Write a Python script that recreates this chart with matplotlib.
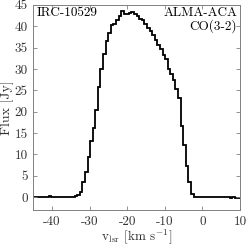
import numpy as np
import matplotlib
matplotlib.use("Agg")
import matplotlib.pyplot as plt

plt.rcParams["font.family"] = "serif"
plt.rcParams["font.serif"] = ["cmr10", "DejaVu Serif"]
plt.rcParams["mathtext.fontset"] = "cm"
plt.rcParams["axes.unicode_minus"] = False
plt.rcParams["axes.formatter.use_mathtext"] = False

# channel edges (km/s) and flux per channel (Jy)
v_start = -45.0
chan_width = 0.6875
flux = [0.1, 0.1, 0.15, 0.1, 0.1, 0.1, 0.2, 0.1, 0.1, 0.1,
        0.1, 0.05, 0.05, 0.1, 0.1, 0.1, 0.3, 0.6, 1.2, 3.5,
        5.8, 9.4, 13.2, 16.2, 20.4, 25.8, 30.0, 33.6, 36.6, 38.4,
        40.2, 40.5, 41.4, 42.5, 43.5, 42.8, 42.9, 43.2, 43.3, 42.9,
        42.3, 41.8, 41.4, 40.6, 39.7, 38.8, 37.9, 36.8, 35.7, 34.7,
        33.3, 32.3, 30.0, 28.9, 27.5, 25.2, 23.2, 16.7, 12.1, 7.4,
        3.5, 0.8, -0.05, 0.0, 0.0, 0.05, 0.0, 0.05, 0.1, 0.05,
        0.1, 0.1, 0.05, 0.1, 0.05, 0.0, -0.2, 0.0, -0.2, -0.1]
edges = v_start + chan_width * np.arange(len(flux) + 1)

fig = plt.figure(figsize=(2.46, 2.45), dpi=100)
ax = fig.add_axes([0.135, 0.143, 0.841, 0.837])

ax.stairs(flux, edges, baseline=None, color="black", linewidth=1.3)

ax.set_xlim(-45, 10)
ax.set_ylim(-3, 45)
ax.set_xticks([-40, -30, -20, -10, 0, 10])
ax.set_yticks(np.arange(0, 46, 5))

ax.tick_params(direction="in", top=True, right=True, length=3,
               width=0.6, color="#808080", labelsize=9.5, pad=4,
               labelcolor="#333333")
for sp in ax.spines.values():
    sp.set_color("#808080")
    sp.set_linewidth(0.7)

ax.set_xlabel(r"v$_{\rm lsr}$ [km s$^{-1}$]", fontsize=9.5,
              color="#333333")
ax.xaxis.set_label_coords(0.5, -0.084)
ax.set_ylabel("Flux [Jy]", fontsize=10, color="#333333")
ax.yaxis.set_label_coords(-0.095, 0.5)

ax.text(0.015, 0.99, "IRC-10529", transform=ax.transAxes,
        ha="left", va="top", fontsize=9.5)
ax.text(0.985, 0.99, "ALMA-ACA\nCO(3-2)", transform=ax.transAxes,
        ha="right", va="top", fontsize=9.5, linespacing=1.0,
        multialignment="right")

fig.savefig("out.png", dpi=100)
